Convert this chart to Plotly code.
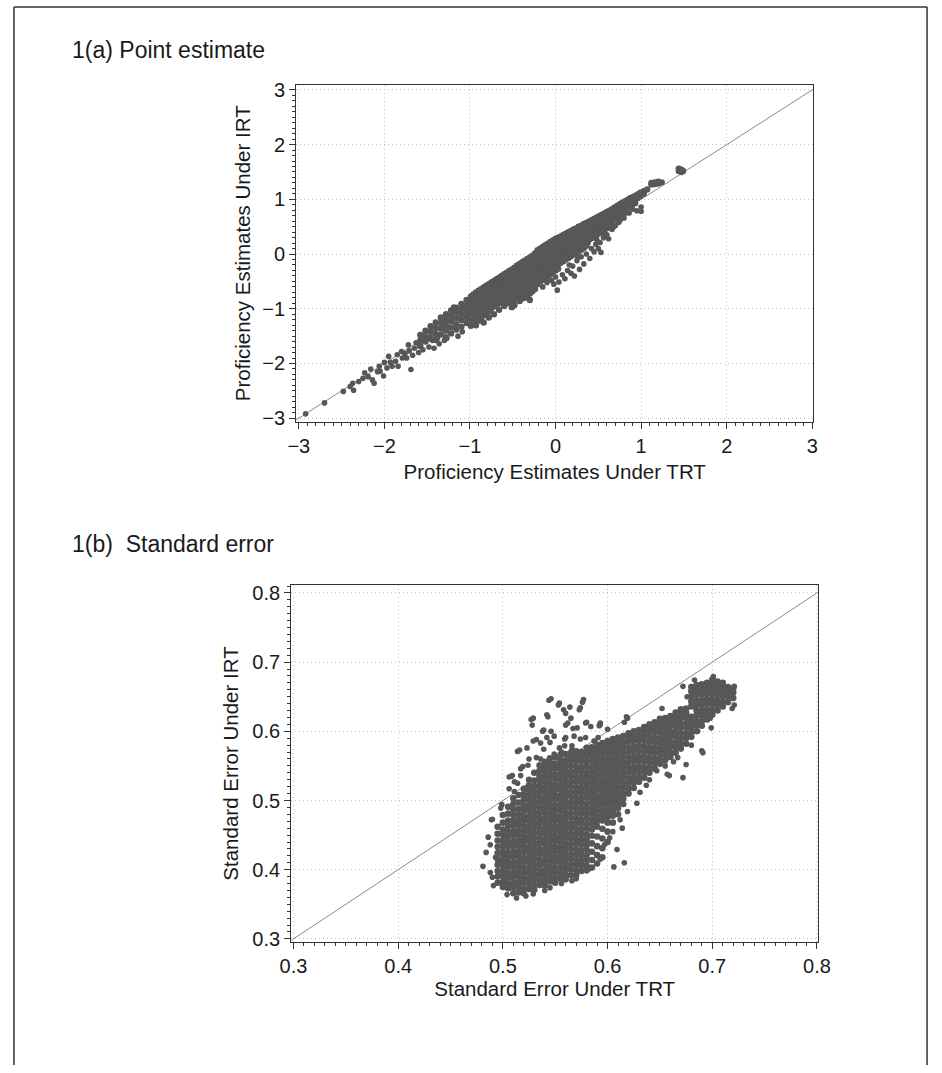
import plotly.graph_objects as go

# ---------------- Panel 1(a): point estimates (TRT, IRT) ----------------
pe_tail = [(-2.92, -2.92), (-2.70, -2.72), (-2.48, -2.51), (-2.40, -2.42), (-2.37, -2.36), (-2.36, -2.49),
           (-2.30, -2.33), (-2.25, -2.27), (-2.23, -2.17), (-2.19, -2.24), (-2.16, -2.10), (-2.14, -2.30),
           (-2.12, -2.36), (-2.08, -2.15), (-2.06, -2.05), (-2.05, -2.14), (-2.01, -2.23), (-2.00, -1.98),
           (-1.97, -2.08), (-1.95, -1.87), (-1.93, -1.98), (-1.91, -2.05), (-1.87, -1.96), (-1.85, -1.84),
           (-1.84, -2.05), (-1.80, -1.78), (-1.79, -1.90), (-1.76, -1.82), (-1.74, -1.90), (-1.72, -1.66),
           (-1.71, -1.77), (-1.69, -2.11), (-1.67, -1.85), (-1.65, -1.72), (-1.63, -1.62), (-1.60, -1.80),
           (-1.59, -1.68), (-1.57, -1.57), (-1.55, -1.75), (-1.53, -1.48), (-1.50, -1.56), (-1.48, -1.70),
           (-1.44, -1.58), (-1.42, -1.72), (-1.38, -1.54), (-1.36, -1.64), (-1.30, -1.58), (-1.27, -1.54),
           (-1.19, -0.97), (-1.14, -1.50), (-1.08, -0.94), (-1.09, -1.42)]

pe_cols = [(-1.58, [-1.48, -1.58, -1.68]), (-1.52, [-1.40, -1.50, -1.60]), (-1.46, [-1.32, -1.42, -1.53]),
           (-1.40, [-1.25, -1.35, -1.46, -1.57]), (-1.34, [-1.16, -1.26, -1.36, -1.47]),
           (-1.28, [-1.10, -1.20, -1.30, -1.40, -1.52]), (-1.22, [-1.03, -1.13, -1.23, -1.34, -1.45]),
           (-1.16, [-0.98, -1.07, -1.17, -1.28, -1.38]), (-1.10, [-0.91, -1.01, -1.11, -1.21, -1.33]),
           (-1.04, [-0.84, -0.95, -1.05, -1.15, -1.26]), (-0.99, [-0.78, -0.89, -0.99, -1.09, -1.20, -1.31]),
           (-0.96, [-0.74, -0.82, -0.95, -1.08, -1.22]), (-0.93, [-0.70, -0.78, -0.90, -1.02, -1.15, -1.30]),
           (-0.90, [-0.67, -0.76, -0.85, -0.97, -1.10, -1.22]), (-0.87, [-0.64, -0.72, -0.80, -0.93, -1.05, -1.18]),
           (-0.84, [-0.61, -0.68, -0.76, -0.88, -1.00, -1.12, -1.25]), (-0.81, [-0.58, -0.65, -0.73, -0.84, -0.96, -1.08]),
           (-0.78, [-0.55, -0.62, -0.70, -0.80, -0.92, -1.04, -1.16]), (-0.75, [-0.52, -0.59, -0.66, -0.77, -0.88, -0.99]),
           (-0.72, [-0.49, -0.56, -0.63, -0.74, -0.85, -0.96, -1.10]), (-0.69, [-0.46, -0.53, -0.60, -0.71, -0.82, -0.93]),
           (-0.66, [-0.43, -0.50, -0.57, -0.67, -0.78, -0.90, -1.02]), (-0.63, [-0.40, -0.47, -0.54, -0.64, -0.75, -0.86]),
           (-0.60, [-0.37, -0.44, -0.50, -0.61, -0.72, -0.83, -0.95]), (-0.57, [-0.34, -0.40, -0.47, -0.58, -0.68, -0.80, -0.90]),
           (-0.54, [-0.31, -0.37, -0.44, -0.55, -0.65, -0.76, -0.88]), (-0.51, [-0.28, -0.34, -0.41, -0.52, -0.62, -0.73, -0.85, -0.97]),
           (-0.48, [-0.25, -0.31, -0.38, -0.48, -0.58, -0.70, -0.82, -0.93]), (-0.45, [-0.21, -0.28, -0.35, -0.45, -0.55, -0.66, -0.78]),
           (-0.42, [-0.18, -0.25, -0.32, -0.42, -0.52, -0.63, -0.74, -0.86]), (-0.39, [-0.15, -0.21, -0.28, -0.38, -0.48, -0.59, -0.70, -0.81]),
           (-0.36, [-0.12, -0.18, -0.25, -0.35, -0.45, -0.56, -0.67, -0.80]), (-0.33, [-0.09, -0.15, -0.22, -0.32, -0.42, -0.52, -0.63, -0.75]),
           (-0.30, [-0.06, -0.12, -0.19, -0.29, -0.39, -0.49, -0.60, -0.72, -0.84]), (-0.27, [-0.03, -0.09, -0.16, -0.26, -0.36, -0.46, -0.56, -0.68]),
           (-0.24, [0.01, -0.06, -0.12, -0.22, -0.32, -0.42, -0.52, -0.64]),
           (-0.21, [0.07, -0.03, -0.13, -0.23, -0.33, -0.43, -0.55]), (-0.18, [0.10, 0.00, -0.10, -0.20, -0.30, -0.40, -0.50]),
           (-0.15, [0.13, 0.03, -0.07, -0.17, -0.27, -0.37, -0.47]), (-0.12, [0.16, 0.06, -0.04, -0.14, -0.24, -0.34, -0.44]),
           (-0.09, [0.19, 0.09, -0.01, -0.11, -0.21, -0.31, -0.41]), (-0.06, [0.22, 0.12, 0.02, -0.08, -0.18, -0.28, -0.37]),
           (-0.03, [0.25, 0.15, 0.05, -0.05, -0.15, -0.25, -0.33]), (0.00, [0.28, 0.18, 0.08, -0.02, -0.12, -0.22, -0.30]),
           (0.03, [0.30, 0.20, 0.10, 0.00, -0.10, -0.19, -0.27]), (0.06, [0.32, 0.23, 0.13, 0.03, -0.07, -0.16]),
           (0.09, [0.35, 0.25, 0.15, 0.05, -0.04, -0.13]), (0.12, [0.37, 0.28, 0.18, 0.08, -0.02, -0.10]),
           (0.15, [0.40, 0.31, 0.21, 0.11, 0.01, -0.07]), (0.18, [0.42, 0.33, 0.24, 0.14, 0.04, -0.04]),
           (0.21, [0.45, 0.36, 0.27, 0.17, 0.07, -0.01]), (0.24, [0.47, 0.38, 0.29, 0.20, 0.10, 0.02]),
           (0.27, [0.50, 0.41, 0.32, 0.23, 0.14, 0.05]), (0.30, [0.52, 0.43, 0.34, 0.25, 0.17, 0.08]),
           (0.33, [0.55, 0.46, 0.37, 0.28, 0.20, 0.11]), (0.36, [0.57, 0.48, 0.40, 0.31, 0.23, 0.15]),
           (0.39, [0.59, 0.51, 0.42, 0.34, 0.26]), (0.42, [0.62, 0.53, 0.45, 0.37, 0.29]),
           (0.45, [0.64, 0.56, 0.48, 0.40, 0.32]), (0.48, [0.67, 0.58, 0.50, 0.42, 0.35]),
           (0.51, [0.69, 0.61, 0.53, 0.45, 0.38]), (0.54, [0.72, 0.64, 0.56, 0.48, 0.41]),
           (0.57, [0.74, 0.66, 0.58, 0.51, 0.44]), (0.60, [0.77, 0.69, 0.61, 0.54, 0.47]),
           (0.63, [0.79, 0.72, 0.64, 0.57, 0.50]), (0.66, [0.82, 0.74, 0.67, 0.60, 0.53]),
           (0.69, [0.85, 0.77, 0.70, 0.63]), (0.72, [0.88, 0.80, 0.73, 0.66]),
           (0.75, [0.91, 0.83, 0.76, 0.69]), (0.78, [0.94, 0.86, 0.79, 0.72]),
           (0.81, [0.96, 0.89, 0.82, 0.75]), (0.84, [0.99, 0.92, 0.85]),
           (0.87, [1.02, 0.95, 0.88]), (0.90, [1.04, 0.98, 0.91]),
           (0.93, [1.06, 1.00, 0.93]), (0.96, [1.09, 1.03]),
           (0.99, [1.12, 1.06]), (1.03, [1.15, 1.10]), (1.07, [1.18]),
           (1.12, [1.27, 1.30]), (1.16, [1.28, 1.31]), (1.20, [1.29, 1.32]), (1.24, [1.31]),
           (1.44, [1.52, 1.56]), (1.47, [1.50, 1.54]), (1.49, [1.52])]

pe_low = [(-0.15, -0.60), (-0.10, -0.52), (-0.05, -0.48), (0.00, -0.42), (0.02, -0.66), (0.04, -0.51),
          (0.08, -0.38), (0.11, -0.45), (0.14, -0.30), (0.18, -0.35), (0.20, -0.22), (0.22, -0.40),
          (0.25, -0.12), (0.28, -0.28), (0.30, -0.05), (0.33, -0.18), (0.36, 0.00), (0.40, -0.08),
          (0.42, 0.10), (0.45, 0.04), (0.47, 0.18), (0.50, 0.10), (0.52, 0.21), (0.53, 0.03),
          (0.56, 0.30), (0.60, 0.35), (0.62, 0.28), (0.66, 0.45), (0.70, 0.52), (0.74, 0.58),
          (0.80, 0.66), (0.86, 0.75), (0.95, 0.79), (1.00, 0.78), (1.00, 0.86), (0.38, 0.20),
          (0.26, -0.05), (-0.02, -0.55), (0.16, -0.20), (0.48, 0.27), (0.58, 0.36), (0.68, 0.50),
          (0.76, 0.63), (0.90, 0.82)]

# ---------------- Panel 1(b): standard errors (TRT, IRT) ----------------
se_cols = [
    (0.495, [0.381, 0.390, 0.398, 0.407, 0.415, 0.424, 0.433, 0.442, 0.452, 0.462]),
    (0.500, [0.375, 0.382, 0.390, 0.397, 0.405, 0.412, 0.420, 0.427, 0.435, 0.442, 0.450, 0.458, 0.468, 0.479]),
    (0.505, [0.373, 0.380, 0.388, 0.395, 0.403, 0.410, 0.418, 0.425, 0.433, 0.440, 0.448, 0.455, 0.463, 0.471, 0.481, 0.491]),
    (0.510, [0.366, 0.374, 0.381, 0.389, 0.396, 0.404, 0.411, 0.419, 0.426, 0.434, 0.441, 0.449, 0.456, 0.464, 0.471, 0.479, 0.487, 0.495, 0.503]),
    (0.515, [0.367, 0.375, 0.382, 0.390, 0.397, 0.405, 0.412, 0.420, 0.427, 0.435, 0.442, 0.450, 0.457, 0.465, 0.472, 0.480, 0.488, 0.497, 0.508]),
    (0.520, [0.366, 0.373, 0.381, 0.388, 0.396, 0.403, 0.411, 0.418, 0.426, 0.433, 0.441, 0.448, 0.456, 0.463, 0.471, 0.478, 0.486, 0.493, 0.501, 0.509, 0.517]),
    (0.525, [0.372, 0.380, 0.387, 0.395, 0.402, 0.410, 0.417, 0.425, 0.432, 0.440, 0.447, 0.455, 0.462, 0.470, 0.477, 0.485, 0.492, 0.500, 0.507, 0.515, 0.522, 0.530]),
    (0.530, [0.371, 0.378, 0.386, 0.393, 0.401, 0.408, 0.416, 0.423, 0.431, 0.438, 0.446, 0.453, 0.461, 0.468, 0.476, 0.483, 0.491, 0.498, 0.506, 0.513, 0.521, 0.529, 0.540]),
    (0.535, [0.378, 0.385, 0.393, 0.400, 0.408, 0.415, 0.423, 0.430, 0.438, 0.445, 0.453, 0.460, 0.468, 0.475, 0.483, 0.490, 0.498, 0.505, 0.513, 0.520, 0.528, 0.535, 0.543, 0.551]),
    (0.540, [0.377, 0.384, 0.392, 0.399, 0.407, 0.414, 0.422, 0.429, 0.437, 0.444, 0.452, 0.459, 0.467, 0.474, 0.482, 0.489, 0.497, 0.504, 0.512, 0.519, 0.527, 0.534, 0.542, 0.549, 0.556]),
    (0.545, [0.383, 0.390, 0.398, 0.405, 0.413, 0.420, 0.428, 0.435, 0.443, 0.450, 0.458, 0.465, 0.473, 0.480, 0.488, 0.495, 0.503, 0.510, 0.518, 0.525, 0.533, 0.540, 0.548, 0.555, 0.561]),
    (0.550, [0.381, 0.388, 0.396, 0.403, 0.411, 0.418, 0.426, 0.433, 0.441, 0.448, 0.456, 0.463, 0.471, 0.478, 0.486, 0.493, 0.501, 0.508, 0.516, 0.523, 0.531, 0.538, 0.546, 0.553, 0.562]),
    (0.555, [0.387, 0.395, 0.402, 0.410, 0.417, 0.425, 0.432, 0.440, 0.447, 0.455, 0.462, 0.470, 0.477, 0.485, 0.492, 0.500, 0.507, 0.515, 0.522, 0.530, 0.537, 0.545, 0.552, 0.559, 0.566]),
    (0.560, [0.386, 0.393, 0.401, 0.408, 0.416, 0.423, 0.431, 0.438, 0.446, 0.453, 0.461, 0.468, 0.476, 0.483, 0.491, 0.498, 0.506, 0.513, 0.521, 0.528, 0.536, 0.543, 0.551, 0.558, 0.567]),
    (0.565, [0.392, 0.400, 0.407, 0.415, 0.422, 0.430, 0.437, 0.445, 0.452, 0.460, 0.467, 0.475, 0.482, 0.490, 0.497, 0.505, 0.512, 0.520, 0.527, 0.535, 0.542, 0.550, 0.557, 0.564, 0.569]),
    (0.570, [0.392, 0.399, 0.407, 0.414, 0.422, 0.429, 0.437, 0.444, 0.452, 0.459, 0.467, 0.474, 0.482, 0.489, 0.497, 0.504, 0.512, 0.519, 0.527, 0.534, 0.542, 0.549, 0.557, 0.564, 0.571]),
    (0.575, [0.398, 0.406, 0.413, 0.421, 0.428, 0.436, 0.443, 0.451, 0.458, 0.466, 0.473, 0.481, 0.488, 0.496, 0.503, 0.511, 0.518, 0.526, 0.533, 0.541, 0.548, 0.556, 0.563, 0.570]),
    (0.580, [0.399, 0.406, 0.414, 0.421, 0.429, 0.436, 0.444, 0.451, 0.459, 0.466, 0.474, 0.481, 0.489, 0.496, 0.504, 0.511, 0.519, 0.526, 0.534, 0.541, 0.549, 0.556, 0.564, 0.571, 0.576]),
    (0.585, [0.403, 0.414, 0.426, 0.438, 0.449, 0.458, 0.466, 0.473, 0.481, 0.488, 0.496, 0.503, 0.511, 0.518, 0.526, 0.533, 0.541, 0.548, 0.556, 0.563, 0.571, 0.577]),
    (0.590, [0.409, 0.421, 0.434, 0.448, 0.462, 0.470, 0.477, 0.485, 0.492, 0.500, 0.507, 0.515, 0.522, 0.530, 0.537, 0.545, 0.552, 0.560, 0.567, 0.574, 0.580]),
    (0.595, [0.418, 0.431, 0.445, 0.459, 0.471, 0.479, 0.486, 0.494, 0.501, 0.509, 0.516, 0.524, 0.531, 0.539, 0.546, 0.554, 0.561, 0.569, 0.576, 0.583]),
    (0.600, [0.440, 0.455, 0.468, 0.476, 0.483, 0.491, 0.498, 0.506, 0.513, 0.521, 0.528, 0.536, 0.543, 0.551, 0.558, 0.566, 0.573, 0.580, 0.586]),
    (0.605, [0.468, 0.478, 0.486, 0.494, 0.501, 0.509, 0.516, 0.524, 0.531, 0.539, 0.546, 0.554, 0.561, 0.569, 0.576, 0.583, 0.589]),
    (0.610, [0.480, 0.489, 0.497, 0.504, 0.512, 0.519, 0.527, 0.534, 0.542, 0.549, 0.557, 0.564, 0.572, 0.579, 0.586, 0.591]),
    (0.615, [0.495, 0.503, 0.510, 0.518, 0.525, 0.533, 0.540, 0.548, 0.555, 0.563, 0.570, 0.578, 0.585, 0.593]),
    (0.620, [0.510, 0.517, 0.525, 0.532, 0.540, 0.547, 0.555, 0.562, 0.570, 0.577, 0.585, 0.591, 0.597]),
    (0.625, [0.518, 0.526, 0.533, 0.541, 0.548, 0.556, 0.563, 0.571, 0.578, 0.586, 0.593, 0.600]),
    (0.630, [0.527, 0.534, 0.542, 0.549, 0.557, 0.564, 0.572, 0.579, 0.587, 0.594, 0.602]),
    (0.635, [0.533, 0.541, 0.548, 0.556, 0.563, 0.571, 0.578, 0.586, 0.593, 0.600, 0.606]),
    (0.640, [0.540, 0.547, 0.555, 0.562, 0.570, 0.577, 0.585, 0.592, 0.600, 0.606, 0.610]),
    (0.645, [0.546, 0.554, 0.561, 0.569, 0.576, 0.584, 0.591, 0.599, 0.606, 0.613]),
    (0.650, [0.553, 0.560, 0.568, 0.575, 0.583, 0.590, 0.598, 0.605, 0.612, 0.618]),
    (0.655, [0.558, 0.566, 0.573, 0.581, 0.588, 0.596, 0.603, 0.611, 0.619]),
    (0.660, [0.563, 0.570, 0.578, 0.585, 0.593, 0.600, 0.608, 0.615, 0.622]),
    (0.665, [0.569, 0.577, 0.584, 0.592, 0.599, 0.607, 0.614, 0.621, 0.627]),
    (0.670, [0.575, 0.582, 0.590, 0.597, 0.605, 0.612, 0.620, 0.627, 0.632]),
    (0.675, [0.582, 0.590, 0.597, 0.605, 0.612, 0.620, 0.627, 0.633]),
    (0.680, [0.592, 0.599, 0.607, 0.614, 0.621, 0.636, 0.643, 0.651, 0.658, 0.664]),
    (0.685, [0.600, 0.608, 0.615, 0.623, 0.630, 0.638, 0.645, 0.653, 0.660, 0.667]),
    (0.690, [0.608, 0.615, 0.623, 0.630, 0.638, 0.645, 0.653, 0.660, 0.668]),
    (0.695, [0.617, 0.625, 0.632, 0.640, 0.647, 0.655, 0.662, 0.670]),
    (0.700, [0.624, 0.631, 0.639, 0.646, 0.654, 0.661, 0.668, 0.675]),
    (0.705, [0.630, 0.638, 0.645, 0.653, 0.660, 0.667, 0.672]),
    (0.710, [0.636, 0.643, 0.651, 0.658, 0.665, 0.670]),
    (0.715, [0.642, 0.650, 0.657, 0.664]),
    (0.720, [0.648, 0.656, 0.662]),
]

se_upper = [(0.544, 0.645), (0.553, 0.638), (0.558, 0.631), (0.560, 0.626), (0.576, 0.642), (0.573, 0.631),
            (0.527, 0.617), (0.528, 0.609), (0.542, 0.624), (0.543, 0.621), (0.560, 0.609), (0.565, 0.619),
            (0.567, 0.604), (0.571, 0.605), (0.579, 0.612), (0.584, 0.607), (0.592, 0.608), (0.538, 0.600),
            (0.546, 0.600), (0.549, 0.593), (0.542, 0.591), (0.536, 0.583), (0.529, 0.586), (0.514, 0.571),
            (0.523, 0.576), (0.560, 0.591), (0.568, 0.593), (0.574, 0.589), (0.559, 0.579), (0.554, 0.576),
            (0.566, 0.579), (0.587, 0.586), (0.591, 0.591), (0.597, 0.583), (0.604, 0.579), (0.525, 0.560),
            (0.532, 0.562), (0.519, 0.549), (0.506, 0.534), (0.508, 0.535), (0.514, 0.525), (0.511, 0.513),
            (0.498, 0.489), (0.489, 0.472), (0.517, 0.546), (0.539, 0.574), (0.549, 0.567), (0.573, 0.567),
            (0.585, 0.567), (0.516, 0.573), (0.529, 0.619), (0.546, 0.647), (0.554, 0.641), (0.564, 0.635),
            (0.577, 0.646), (0.574, 0.634), (0.562, 0.612), (0.580, 0.613), (0.593, 0.612), (0.600, 0.603),
            (0.618, 0.621), (0.539, 0.602), (0.532, 0.588), (0.545, 0.584), (0.559, 0.589), (0.579, 0.591),
            (0.588, 0.586), (0.566, 0.574), (0.556, 0.570), (0.536, 0.560), (0.524, 0.551), (0.517, 0.536),
            (0.506, 0.517), (0.511, 0.527), (0.602, 0.579), (0.609, 0.584), (0.490, 0.473), (0.499, 0.494),
            (0.509, 0.536), (0.619, 0.619), (0.616, 0.613), (0.652, 0.633), (0.593, 0.610)]

se_lower = [(0.481, 0.405), (0.488, 0.396), (0.491, 0.377), (0.488, 0.436), (0.486, 0.447), (0.493, 0.418),
            (0.484, 0.425), (0.490, 0.389), (0.504, 0.364), (0.513, 0.359), (0.522, 0.362), (0.529, 0.365),
            (0.540, 0.370), (0.545, 0.374), (0.556, 0.380), (0.566, 0.384), (0.570, 0.387), (0.582, 0.401),
            (0.593, 0.415), (0.606, 0.404), (0.609, 0.429), (0.616, 0.410), (0.602, 0.446), (0.614, 0.460),
            (0.597, 0.436), (0.605, 0.455), (0.612, 0.472), (0.619, 0.484), (0.628, 0.496), (0.637, 0.522),
            (0.631, 0.512), (0.647, 0.543), (0.655, 0.550), (0.657, 0.538), (0.659, 0.536), (0.667, 0.562),
            (0.672, 0.533), (0.675, 0.552), (0.690, 0.572), (0.691, 0.569), (0.699, 0.605), (0.698, 0.619),
            (0.719, 0.633), (0.721, 0.638), (0.717, 0.662), (0.721, 0.665), (0.683, 0.674), (0.701, 0.679),
            (0.672, 0.665), (0.676, 0.650), (0.686, 0.600), (0.680, 0.580), (0.663, 0.556), (0.640, 0.530)]

pe_ticks = [-3, -2, -1, 0, 1, 2, 3]
se_ticks = [0.3, 0.4, 0.5, 0.6, 0.7, 0.8]


def expand_cols(cols):
    xs, ys = [], []
    for x, yl in cols:
        for y in yl:
            xs.append(x)
            ys.append(y)
    return xs, ys


def split_pairs(pairs):
    return [p[0] for p in pairs], [p[1] for p in pairs]


pe_x1, pe_y1 = expand_cols(pe_cols)
pe_x2, pe_y2 = split_pairs(pe_tail + pe_low)
se_x1, se_y1 = expand_cols(se_cols)
se_x2, se_y2 = split_pairs(se_upper + se_lower)

W, H = 942, 1073
FONT = "Liberation Sans, Arial, Helvetica, sans-serif"
PT = "#575757"
AX = "#333333"
TXT = "#1a1a1a"
m_small = dict(color=PT, size=5.6, line=dict(width=0))
m_pe_core = dict(color=PT, size=6.4, line=dict(width=0))
m_se_core = dict(color=PT, size=6.6, line=dict(width=0))

fig = go.Figure()
# identity lines
fig.add_trace(go.Scatter(x=[-3.2, 3.2], y=[-3.2, 3.2], mode="lines",
                         line=dict(color="#8a8a8a", width=1), xaxis="x", yaxis="y", hoverinfo="skip"))
fig.add_trace(go.Scatter(x=[0.28, 0.82], y=[0.28, 0.82], mode="lines",
                         line=dict(color="#8a8a8a", width=1), xaxis="x2", yaxis="y2", hoverinfo="skip"))
# points
fig.add_trace(go.Scatter(x=pe_x1, y=pe_y1, mode="markers", marker=m_pe_core, xaxis="x", yaxis="y"))
fig.add_trace(go.Scatter(x=pe_x2, y=pe_y2, mode="markers", marker=m_small, xaxis="x", yaxis="y"))
fig.add_trace(go.Scatter(x=se_x1, y=se_y1, mode="markers", marker=m_se_core, xaxis="x2", yaxis="y2"))
fig.add_trace(go.Scatter(x=se_x2, y=se_y2, mode="markers", marker=m_small, xaxis="x2", yaxis="y2"))


def axis(domain, rng, ticks, minor_dtick, title, standoff, fmt=None, anchor=None):
    d = dict(domain=domain, range=rng, tickvals=ticks, showline=True, mirror=True,
             linecolor=AX, linewidth=1.4, ticks="outside", ticklen=6, tickwidth=1, tickcolor=AX,
             showgrid=True, gridcolor="#c4c4c4", griddash="1px,3px", gridwidth=1, zeroline=False,
             tickfont=dict(family=FONT, size=20, color=TXT),
             minor=dict(dtick=minor_dtick, ticks="outside", ticklen=3, tickcolor=AX, showgrid=False),
             title=dict(text=title, standoff=standoff, font=dict(family=FONT, size=20.5, color=TXT)),
             anchor=anchor)
    if fmt:
        d["tickformat"] = fmt
    return d


fig.update_layout(
    width=W, height=H, margin=dict(l=0, r=0, t=0, b=0),
    paper_bgcolor="white", plot_bgcolor="white", showlegend=False,
    xaxis=axis([292 / W, 823 / W], [-3.03, 3.01], pe_ticks, 0.1, "Proficiency Estimates Under TRT", 8, anchor="y"),
    yaxis=axis([1 - 421 / H, 1 - 80 / H], [-3.06, 3.09], pe_ticks, 0.1, "Proficiency Estimates Under IRT", 6, anchor="x"),
    xaxis2=axis([287 / W, 828 / W], [0.298, 0.801], se_ticks, 0.01, "Standard Error Under TRT", 2, ".1f", anchor="y2"),
    yaxis2=axis([1 - 948 / H, 1 - 587 / H], [0.296, 0.811], se_ticks, 0.01, "Standard Error Under IRT", 8, ".1f", anchor="x2"),
    annotations=[
        dict(text="1(a) Point estimate", x=60 / W, y=1 - 45 / H, xref="paper", yref="paper",
             xanchor="left", yanchor="middle", showarrow=False,
             font=dict(family=FONT, size=23, color=TXT)),
        dict(text="1(b)\u00a0 Standard error", x=60 / W, y=1 - 545 / H, xref="paper", yref="paper",
             xanchor="left", yanchor="middle", showarrow=False,
             font=dict(family=FONT, size=23, color=TXT)),
    ],
    shapes=[
        dict(type="line", xref="paper", yref="paper", x0=2 / W, x1=2 / W, y0=0, y1=1 - 1 / H,
             line=dict(color="#333333", width=1.5)),
        dict(type="line", xref="paper", yref="paper", x0=2 / W, x1=940 / W, y0=1 - 1 / H, y1=1 - 1 / H,
             line=dict(color="#333333", width=1.5)),
        dict(type="line", xref="paper", yref="paper", x0=940 / W, x1=940 / W, y0=0, y1=1 - 1 / H,
             line=dict(color="#333333", width=1.5)),
    ],
)

fig.write_html("out.html", config={"displayModeBar": False},
               post_script="document.body.style.margin='0';document.body.style.overflow='hidden';")
